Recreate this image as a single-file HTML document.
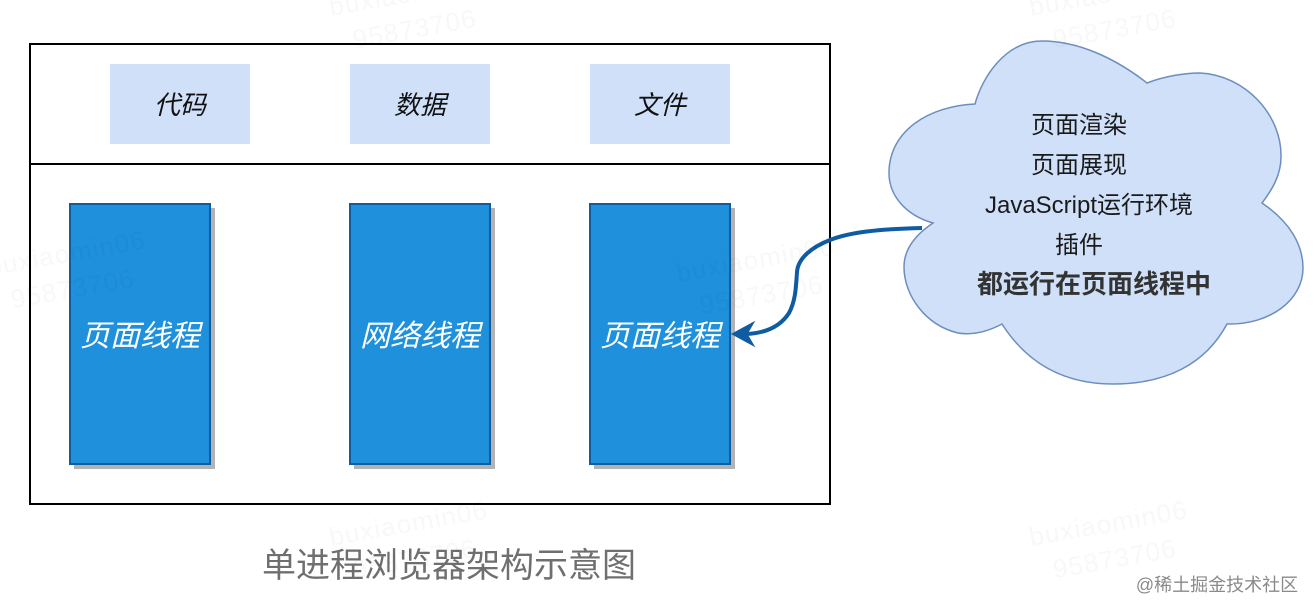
<!DOCTYPE html>
<html><head><meta charset="utf-8"><style>
html,body{margin:0;padding:0;background:#fff;width:1316px;height:614px;overflow:hidden}
svg{display:block}
text{font-family:"Liberation Sans","Noto Sans CJK SC",sans-serif;text-anchor:middle}
.wm{fill:#000;opacity:.03;font-size:26px;letter-spacing:1.2px}
.it{font-style:italic}
</style></head><body>
<svg width="1316" height="614" viewBox="0 0 1316 614" xmlns="http://www.w3.org/2000/svg">
<rect width="1316" height="614" fill="#fff"/>
<rect x="30" y="44" width="800" height="460" fill="none" stroke="#000" stroke-width="2"/>
<line x1="30" y1="164" x2="830" y2="164" stroke="#000" stroke-width="2"/>
<g fill="#d0e0f9">
<rect x="110" y="64" width="140" height="80"/>
<rect x="350" y="64" width="140" height="80"/>
<rect x="590" y="64" width="140" height="80"/>
</g>
<g class="it" font-size="26" fill="#111">
<text x="180" y="114">代码</text>
<text x="420" y="114">数据</text>
<text x="660" y="114">文件</text>
</g>
<g fill="#b3b3b3">
<rect x="74" y="208" width="141" height="261"/>
<rect x="354" y="208" width="141" height="261"/>
<rect x="594" y="208" width="141" height="261"/>
</g>
<g fill="#1e90dc" stroke="#0f5c9e" stroke-width="2">
<rect x="70" y="204" width="140" height="260"/>
<rect x="350" y="204" width="140" height="260"/>
<rect x="590" y="204" width="140" height="260"/>
</g>
<g class="it" font-size="30" fill="#fff">
<text x="140" y="346">页面线程</text>
<text x="420" y="346">网络线程</text>
<text x="660" y="346">页面线程</text>
</g>
<path d="M975 104C982 78 1005 41 1042 41C1078 41 1115 58 1147 83C1165 76 1185 73 1200 73C1245 75 1282 115 1281 157C1281 175 1272 190 1262 203C1290 222 1303 245 1303 268C1303 300 1270 325 1227 324C1205 365 1165 384 1113 384C1060 384 1025 360 1002 324C985 333 970 335 958 333C925 325 904 295 904 267C904 250 915 235 933 223C905 215 889 195 889 173C889 130 930 106 975 104Z" fill="#d0e0f9" stroke="#6c8ebf" stroke-width="1.5"/>
<g font-size="24" fill="#1a1a1a">
<text x="1079" y="133">页面渲染</text>
<text x="1079" y="173">页面展现</text>
<text x="1089" y="213">JavaScript运行环境</text>
<text x="1079" y="253">插件</text>
<text x="1094" y="293" font-size="26" font-weight="bold" fill="#333">都运行在页面线程中</text>
</g>
<path d="M922 228C880 229 850 232 830 240C812 247 798 258 797 272C796 285 796 300 789 313C780 327 765 333 747 334" fill="none" stroke="#0f5ca3" stroke-width="4"/>
<path d="M732 334L754 322L747 334L754 346Z" fill="#0f5ca3" stroke="#0f5ca3" stroke-width="1"/>
<text x="449" y="577" font-size="34" fill="#6f6f6f">单进程浏览器架构示意图</text>
<text x="1217" y="591" font-size="18" fill="#8a8a8a">@稀土掘金技术社区</text>
<g class="wm">
<g transform="translate(410,2) rotate(-10)"><text x="0" y="0">buxiaomin06</text><text x="0" y="36">95873706</text></g>
<g transform="translate(1110,2) rotate(-10)"><text x="0" y="0">buxiaomin06</text><text x="0" y="36">95873706</text></g>
<g transform="translate(68,262) rotate(-10)"><text x="0" y="0">buxiaomin06</text><text x="0" y="36">95873706</text></g>
<g transform="translate(757,268) rotate(-10)"><text x="0" y="0">buxiaomin06</text><text x="0" y="36">95873706</text></g>
<g transform="translate(410,532) rotate(-10)"><text x="0" y="0">buxiaomin06</text><text x="0" y="36">95873706</text></g>
<g transform="translate(1110,532) rotate(-10)"><text x="0" y="0">buxiaomin06</text><text x="0" y="36">95873706</text></g>
</g>
</svg>
</body></html>
